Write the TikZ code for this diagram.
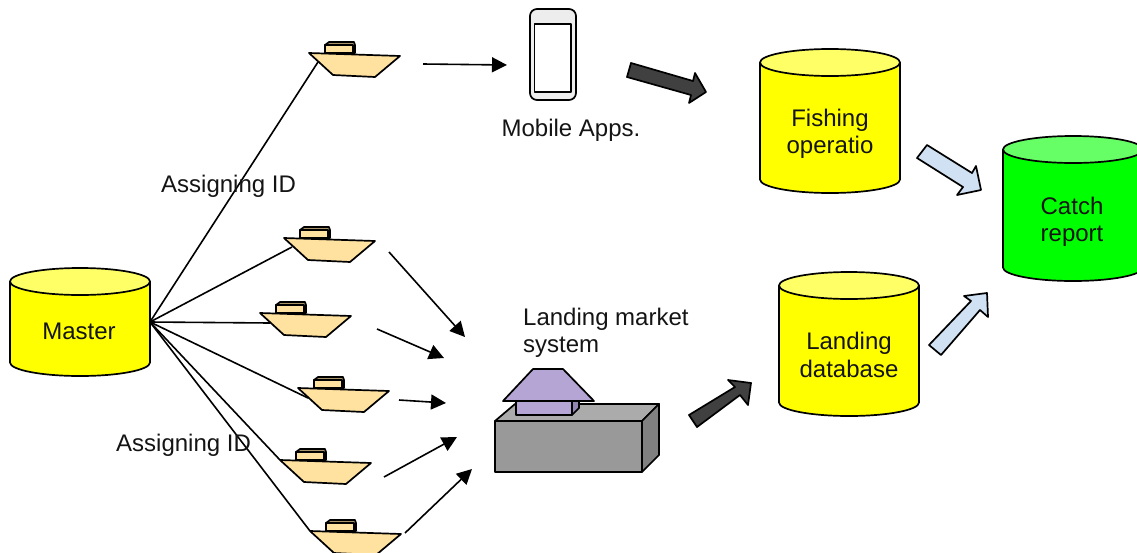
\documentclass[tikz,border=0pt]{standalone}
\usepackage{fontspec}
\setmainfont{Liberation Sans}
\usetikzlibrary{arrows.meta}
\definecolor{cylY}{HTML}{FFFF00}
\definecolor{cylYtop}{HTML}{FFFF66}
\definecolor{cylG}{HTML}{00FF00}
\definecolor{cylGtop}{HTML}{66FF66}
\definecolor{hull}{HTML}{FFE2A0}
\definecolor{cabinside}{HTML}{A89468}
\definecolor{darkarrow}{HTML}{404040}
\definecolor{lightarrow}{HTML}{CFE1F3}
\definecolor{roofcol}{HTML}{B4A5D5}
\definecolor{roofside}{HTML}{9384B4}
\tikzset{
  x=1pt,y=-1pt,
  label text/.style={font=\fontsize{24}{27.5}\selectfont,align=center,inner sep=0pt,text=black!92},
  outline/.style={draw=black,line width=1.7pt,line join=round},
  link/.style={draw=black,line width=1.6pt},
  flow/.style={draw=black,line width=1.6pt,-{Triangle[length=15pt,width=15pt]},shorten >=0pt},
  dark block/.style={outline,fill=darkarrow},
  light block/.style={outline,fill=lightarrow},
  ship/.pic={
    \path[outline,fill=cabinside] (16,0) -- (16,-8) -- (20,-11) -- (45,-11) -- (46,-8) -- (46,0) -- cycle;
    \path[outline,fill=hull,line width=1.2pt] (16,0) -- (16,-8) -- (44,-8) -- (44,0) -- cycle;
    \path[outline,fill=hull] (0,0) -- (91,3) -- (66,24) -- (24,22) -- cycle;
  },
}
\newcommand{\cylinder}[6]{%
  % #1 name #2 left x #3 top y #4 bottom y #5 body #6 top
  \path[outline,fill=#5] (#2,#3+13.5) -- (#2,#4-13.5) arc[start angle=180,end angle=360,x radius=70,y radius=-13.5] -- (#2+140,#3+13.5) -- cycle;
  \path[outline,fill=#6] (#2+70,#3+13.5) ellipse[x radius=70,y radius=13.5];
}
\begin{document}
\begin{tikzpicture}
\useasboundingbox (0,0) rectangle (1137,552);
\clip (0,0) rectangle (1137,552);

% Anchor coordinates
\coordinate (mout) at (150,322);
\coordinate (s1) at (309,53);
\coordinate (s2) at (284,238);
\coordinate (s3) at (260,313);
\coordinate (s4) at (298,388);
\coordinate (s5) at (280,460);
\coordinate (s6) at (310,531);
\coordinate (s1in) at (318,62);
\coordinate (s2in) at (292,247);
\coordinate (s3in) at (270,323);
\coordinate (s4in) at (308,398);

% Links from master
\draw[link] (mout) -- (s1in);
\draw[link] (mout) -- (s2in);
\draw[link] (mout) -- (s3in);
\draw[link] (mout) -- (s4in);
\draw[link] (mout) -- (s5);
\draw[link] (mout) -- (s6);

% Ships
\pic at (s1) {ship};
\pic at (s2) {ship};
\pic at (s3) {ship};
\pic at (s4) {ship};
\pic at (s5) {ship};
\pic at (s6) {ship};

% Cylinders
\cylinder{master}{10}{268}{376}{cylY}{cylYtop}
\cylinder{fishing}{760}{49}{193}{cylY}{cylYtop}
\cylinder{landing}{779}{272}{416}{cylY}{cylYtop}
\cylinder{catch}{1003}{136}{281}{cylG}{cylGtop}

% Phone
\draw[outline,fill=black!7,rounded corners=7pt] (530,9) rectangle (576,100);
\draw[outline,fill=white] (534.5,24) rectangle (571,92);

% Market building
\path[outline,fill=black!33] (495,421) -- (515,404) -- (659,404) -- (642,421) -- cycle;
\path[outline,fill=black!50] (642,421) -- (659,404) -- (659,455) -- (642,472) -- cycle;
\path[outline,fill=black!40] (495,421) rectangle (642,472);
\path[outline,fill=roofside] (572,401) -- (579,401) -- (579,408) -- (572,415) -- cycle;
\path[outline,fill=roofcol] (516,401) rectangle (572,415);
\path[outline,fill=roofcol] (503,401) -- (594,401) -- (563,369) -- (533,369) -- cycle;

% Thin arrows
\coordinate (a1s) at (423,64);   \coordinate (a1e) at (507,65);
\coordinate (a2s) at (389,252);  \coordinate (a2e) at (465,337);
\coordinate (a3s) at (377,329);  \coordinate (a3e) at (444,358);
\coordinate (a4s) at (399,400);  \coordinate (a4e) at (446,403);
\coordinate (a5s) at (384,477);  \coordinate (a5e) at (457,437);
\coordinate (a6s) at (405,533);  \coordinate (a6e) at (472,469);
\draw[flow] (a1s) -- (a1e);
\draw[flow] (a2s) -- (a2e);
\draw[flow] (a3s) -- (a3e);
\draw[flow] (a4s) -- (a4e);
\draw[flow] (a5s) -- (a5e);
\draw[flow] (a6s) -- (a6e);

% Block arrows
\path[dark block] (631,63) -- (693,81) -- (695,73) -- (706,92) -- (689,103) -- (691,95) -- (627,77) -- cycle;
\path[dark block] (689,415) -- (735,387) -- (728,380) -- (751,383) -- (748,405) -- (740,395) -- (697,427) -- cycle;
\path[light block] (927,145) -- (972,173) -- (976,166) -- (981,190) -- (957,195) -- (963,187) -- (917,158) -- cycle;
\path[light block] (929,345) -- (971,301) -- (964,296) -- (987,293) -- (988,317) -- (980,310) -- (941,355) -- cycle;

% Texts
\node[label text] (tmaster) at (79,331) {Master};
\node[label text] (tfishing) at (830,134) {Fishing\\operatio};
\node[label text] (tlanding) at (849,355) {Landing\\database};
\node[label text] (tcatch) at (1072,222) {Catch\\report};
\node[label text] (tmobile) at (571,130) {Mobile Apps.};
\node[label text,align=left,anchor=west] (tmarket) at (523,333) {Landing market\\system};
\node[label text,anchor=west] (tid1) at (161,186) {Assigning ID};
\node[label text,anchor=west] (tid2) at (116,445) {Assigning ID};
\end{tikzpicture}
\end{document}
